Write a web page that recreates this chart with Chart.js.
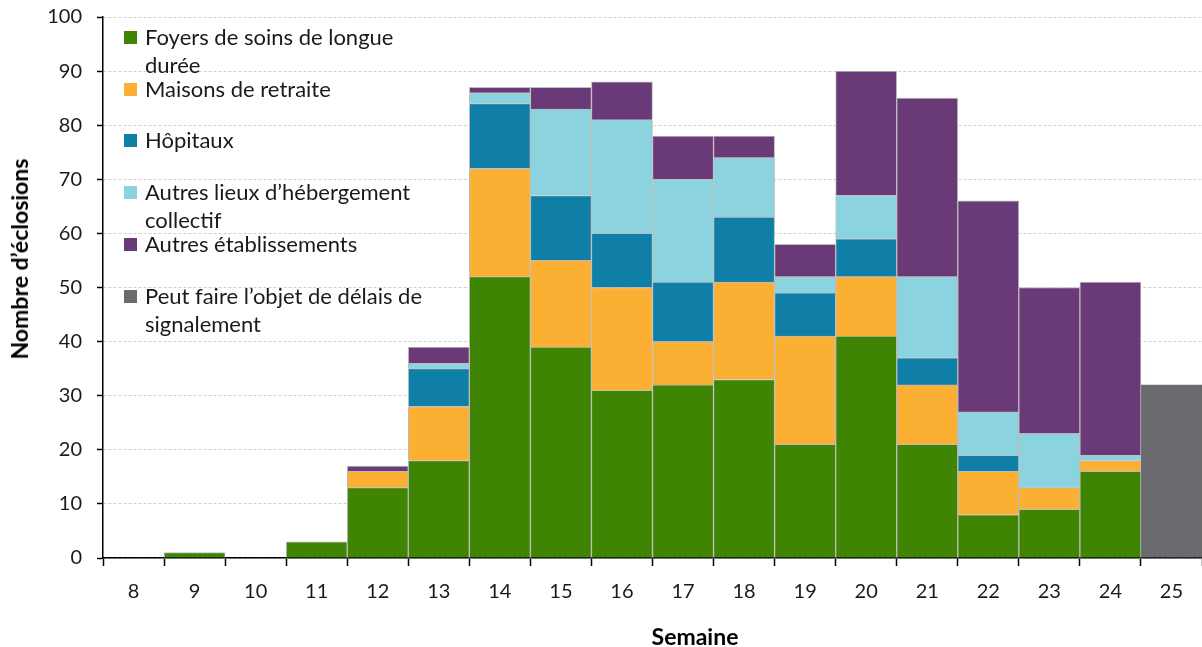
<!DOCTYPE html>
<html lang="fr">
<head>
    <meta charset="UTF-8">
    <title>Éclosions par semaine</title>
    <script src="https://cdn.jsdelivr.net/npm/chart.js"></script>
    <style>
        body {
            margin: 0;
            background: #fff;
            font-family: Lato, "Open Sans", sans-serif;
        }
        #wrap {
            position: relative;
            width: 1202px;
            height: 647px;
        }
        #legend {
            position: absolute;
            left: 124px;
            top: 23px;
            font-size: 22px;
            line-height: 28px;
            color: #1a1a1a;
        }
        .item {
            position: absolute;
            left: 0;
            white-space: nowrap;
        }
        .box {
            position: absolute;
            left: 0;
            top: 8px;
            width: 13px;
            height: 13px;
        }
        .lbl {
            position: absolute;
            left: 21px;
            top: 0;
        }
        .titre {
            position: absolute;
            font-weight: bold;
            font-size: 23px;
            line-height: 26px;
            color: #000;
            white-space: nowrap;
            transform: translate(-50%, -50%);
        }
        #titreY {
            left: 19px;
            top: 259px;
            transform: translate(-50%, -50%) rotate(-90deg);
        }
        #titreX {
            left: 695px;
            top: 636px;
        }
    </style>
</head>
<body>
<div id="wrap">
    <canvas id="chart"></canvas>
    <div id="legend"></div>
    <div class="titre" id="titreY">Nombre d’éclosions</div>
    <div class="titre" id="titreX">Semaine</div>
</div>

<script>
    const semaines = ['8', '9', '10', '11', '12', '13', '14', '15', '16', '17', '18', '19', '20', '21', '22', '23', '24', '25'];

    const foyers      = [null, 1, null, 3, 13, 18, 52, 39, 31, 32, 33, 21, 41, 21, 8, 9, 16, null];
    const maisons     = [null, null, null, null, 3, 10, 20, 16, 19, 8, 18, 20, 11, 11, 8, 4, 2, null];
    const hopitaux    = [null, null, null, null, null, 7, 12, 12, 10, 11, 12, 8, 7, 5, 3, null, null, null];
    const autresLieux = [null, null, null, null, null, 1, 2, 16, 21, 19, 11, 3, 8, 15, 8, 10, 1, null];
    const autresEtab  = [null, null, null, null, 1, 3, 1, 4, 7, 8, 4, 6, 23, 33, 39, 27, 32, null];
    const delais      = [null, null, null, null, null, null, null, null, null, null, null, null, null, null, null, null, null, 32];

    const series = [
        { nom: 'Foyers de soins de longue\ndurée', data: foyers, couleur: '#3f8403' },
        { nom: 'Maisons de retraite', data: maisons, couleur: '#fbb034' },
        { nom: 'Hôpitaux', data: hopitaux, couleur: '#0f7fa8' },
        { nom: 'Autres lieux d’hébergement\ncollectif', data: autresLieux, couleur: '#8bd3df' },
        { nom: 'Autres établissements', data: autresEtab, couleur: '#6a3a78' },
        { nom: 'Peut faire l’objet de délais de\nsignalement', data: delais, couleur: '#6a6b6e' }
    ];

    const police = "Lato, 'Open Sans', sans-serif";

    new Chart(document.getElementById('chart'), {
        type: 'bar',
        data: {
            labels: semaines,
            datasets: series.map(s => ({
                label: s.nom.replace('\n', ' '),
                data: s.data,
                backgroundColor: s.couleur,
                borderColor: s.nom.startsWith('Peut') ? s.couleur : '#bdbdbd',
                borderWidth: 1,
                barPercentage: 1,
                categoryPercentage: 1
            }))
        },
        options: {
            responsive: true,
            maintainAspectRatio: false,
            animation: false,
            layout: { padding: { top: 17, right: 0, left: 0, bottom: 0 } },
            plugins: {
                legend: { display: false },
                tooltip: { enabled: false }
            },
            scales: {
                x: {
                    stacked: true,
                    offset: true,
                    grid: {
                        offset: true,
                        drawOnChartArea: false,
                        drawTicks: true,
                        tickLength: 8,
                        tickColor: '#000',
                        tickWidth: 1.5
                    },
                    border: { color: '#000', width: 1.5 },
                    ticks: {
                        color: '#1a1a1a',
                        padding: 14,
                        font: { family: police, size: 20 }
                    },
                    afterFit: s => {
                        s.height = 89;
                        s.paddingLeft = 0;
                        s.paddingRight = 0;
                    }
                },
                y: {
                    stacked: true,
                    min: 0,
                    max: 100,
                    ticks: {
                        stepSize: 10,
                        color: '#1a1a1a',
                        padding: 15,
                        font: { family: police, size: 20 }
                    },
                    grid: {
                        color: '#d0d0d0',
                        tickColor: '#000',
                        tickLength: 6,
                        tickWidth: 1.5
                    },
                    border: { color: '#000', width: 1.5, dash: [3, 2] },
                    afterFit: s => {
                        s.width = 103;
                        s.paddingTop = 0;
                        s.paddingBottom = 0;
                    }
                }
            }
        }
    });

    // légende à l'intérieur du graphique
    const legende = document.getElementById('legend');
    series.forEach((s, i) => {
        const item = document.createElement('div');
        item.className = 'item';
        item.style.top = (i * 51.7) + 'px';
        const box = document.createElement('span');
        box.className = 'box';
        box.style.background = s.couleur;
        const lbl = document.createElement('span');
        lbl.className = 'lbl';
        lbl.innerHTML = s.nom.replace('\n', '<br>');
        item.appendChild(box);
        item.appendChild(lbl);
        legende.appendChild(item);
    });
</script>
</body>
</html>
